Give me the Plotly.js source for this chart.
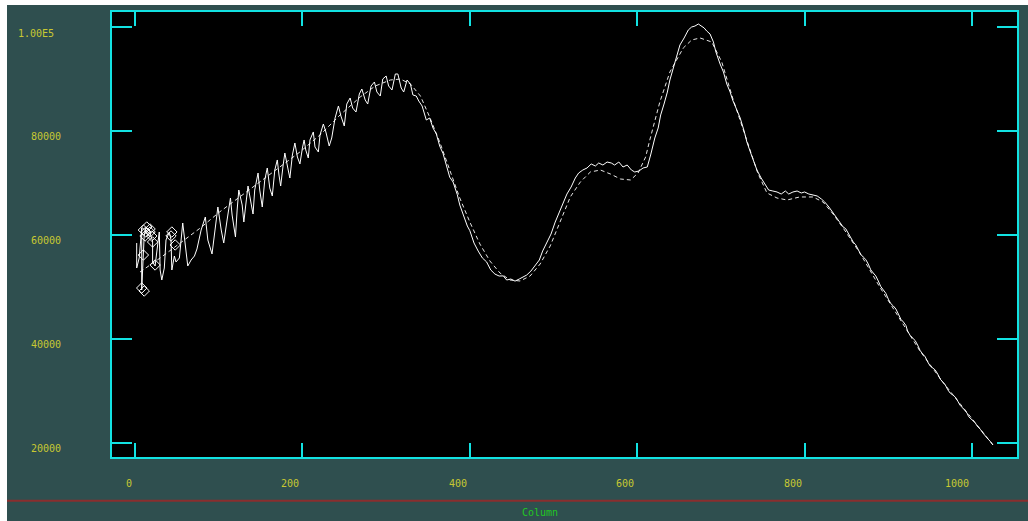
<!DOCTYPE html>
<html>
<head>
<meta charset="utf-8">
<script src="https://cdn.plot.ly/plotly-3.0.1.min.js"></script>
<style>
  html, body { margin: 0; padding: 0; background: #ffffff; }
  #plot { position: absolute; left: 7px; top: 5px; width: 1021px; height: 516px; }
</style>
</head>
<body>
<div id="plot"></div>
<script>
// Axis ticks and their printed labels
const xTicks = [0, 200, 400, 600, 800, 1000];
const xTickLabels = ['0', '200', '400', '600', '800', '1000'];
const yTicks = [20000, 40000, 60000, 80000, 100000];
const yTickLabels = ['20000', '40000', '60000', '80000', '1.00E5'];
const xTitle = 'Column';

// Measured profile along the column direction
const dataX = [
  2, 2, 5, 8, 8, 11, 13, 17, 19, 21,
  21, 24, 26, 29, 30, 32, 35, 37, 41, 43,
  44, 47, 49, 53, 57, 61, 63, 67, 71, 74,
  79, 84, 87, 92, 96, 99, 103, 106, 110, 114,
  116, 120, 122, 124, 128, 130, 133, 135, 139, 141,
  143, 147, 149, 152, 155, 158, 161, 164, 167, 170,
  172, 174, 177, 179, 183, 185, 188, 191, 194, 197,
  200, 202, 204, 207, 209, 213, 215, 219,
  221, 225, 228, 232, 235, 239, 243, 246, 250, 253,
  257, 260, 264, 268, 271, 275, 278, 282, 286, 289,
  293, 296, 300, 303, 307, 311, 314, 318, 321, 325,
  329, 332, 336, 339, 343, 348,
  352, 356, 360, 364, 368, 373, 376, 380, 385, 388,
  392, 397, 400, 405, 410, 415, 420, 425, 430, 435,
  440, 444, 449, 454, 459, 463, 468, 473, 478, 483,
  487, 492, 497, 502, 506, 511, 516, 521, 526, 530,
  535, 540, 545, 550, 554, 559, 564, 569, 573, 578,
  583, 588, 593, 597, 602, 607, 612, 616, 621, 625,
  628, 632, 636, 639, 643, 646, 651, 656, 661, 665,
  669, 673, 676, 680, 683, 687, 691, 694, 699, 703,
  707, 711, 714, 719, 723, 728, 731, 736, 740, 743,
  748, 753, 757, 762, 767, 772, 777, 781, 786, 791,
  796, 800, 805, 810, 815, 820, 824, 829, 834, 840,
  846, 849, 852, 855, 858, 861, 864, 867, 870, 873,
  876, 879, 882, 885, 888, 891, 894, 897, 900, 903,
  906, 909, 912, 915, 918, 921, 923, 926, 929, 932,
  935, 938, 941, 944, 947, 950, 953, 956, 959, 962,
  965, 968, 971, 974, 977, 980, 983, 986, 989, 991,
  994, 996, 999, 1001, 1004, 1006, 1008, 1010, 1013, 1016,
  1019, 1022, 1025
];
const dataY = [
  58430, 53620, 55550, 61320, 49390, 59970, 61320, 60930, 59780, 58820,
  54780, 54010, 56700, 60550, 53240, 51310, 53620, 59010, 60550, 59010,
  53240, 55930, 54780, 55550, 62280, 57090, 54010, 55160, 55930, 57280,
  60930, 63440, 59010, 56320, 60930, 65360, 60930, 58430, 62860, 67090,
  63820, 59590, 64780, 68630, 65750, 62470, 66710, 69400, 65750, 64010,
  68630, 71900, 68630, 65360, 70560, 72870, 69020, 67480, 72480, 74410,
  71520, 69400, 73440, 75750, 72480, 70940, 75370, 77680, 74980, 73640,
  76720, 78260, 76330, 74790, 78260, 79800, 76910, 75950,
  79220, 81330, 79800, 77100, 78640, 82490, 84800, 82870, 80950, 85180,
  86340, 84410, 83640, 87110, 88070, 85950, 85180, 88650, 89420, 87490,
  86720, 90000, 90570, 88650, 87880, 90960, 90960, 88260, 87490, 89800,
  89030, 86920, 86720, 85760, 84800, 82100,
  82490, 80560, 79410, 77100, 75650, 73060, 71100, 70170, 67750, 65750,
  63800, 61700, 60800, 58430, 56880, 55550, 54800, 53240, 52450, 52080,
  52100, 51310, 51500, 51100, 51500, 51890, 52270, 53040, 54010, 55160,
  56890, 58430, 60160, 62470, 64010, 66130, 67860, 69210, 70940, 71900,
  72480, 72870, 73640, 73250, 73830, 73440, 74020, 73830, 73440, 74020,
  73060, 73440, 72480, 72100, 72290, 72870, 73060, 75370, 78640, 80560,
  83070, 85180, 87490, 89800, 92110, 94040, 96540, 97890, 99430, 100000,
  100190, 100580, 100190, 99810, 99230, 98650, 97120, 95190, 92880, 91340,
  89030, 87490, 85950, 84030, 82490, 79800, 77870, 75560, 73830, 72480,
  70940, 69590, 68630, 68440, 68250, 67860, 68440, 67860, 68250, 68440,
  68060, 68250, 67860, 67670, 67480, 66900, 66320, 65360, 64210, 62860,
  61510, 61200, 60390, 59310, 58630, 58090, 57050, 56250, 55740, 55260,
  54380, 53270, 52660, 52090, 51120, 50050, 49390, 48750, 47620, 46760,
  46310, 45730, 44760, 43750, 43230, 42550, 41480, 40660, 40150, 39670,
  38790, 37730, 37070, 36550, 35540, 34760, 34380, 34000, 33210, 32240,
  31680, 31130, 30180, 29530, 29180, 28790, 27990, 27130, 26680, 26350,
  25720, 25010, 24600, 24350, 23790, 23230, 22980, 22570, 21870, 21190,
  20710, 20230, 19560
];

// Fitted model curve
const modelX = [
  6, 30, 54, 78, 101, 125, 149, 173, 197, 221,
  245, 269, 287, 305, 317, 329, 341, 352, 364, 376,
  388, 400, 412, 424, 436, 448, 460, 472, 484, 496,
  508, 520, 532, 544, 556, 568, 580, 592, 601, 610,
  615, 627, 639, 655, 665, 675, 689, 701, 714, 726,
  734, 744, 755, 767, 779, 794, 810, 822, 834, 846,
  866, 889, 913, 937, 965, 994, 1025
];
const modelY = [
  52850, 55550, 58430, 61320, 64400, 67290, 70170, 73060, 75950, 79220,
  83070, 86530, 88650, 89800, 89990, 89030, 86720, 82680, 77870, 72480,
  67090, 62470, 58240, 54970, 52660, 51310, 51120, 52080, 54390, 57860,
  62470, 67290, 70170, 72100, 72480, 71710, 70750, 70560, 71900, 74980,
  78260, 85570, 91340, 95960, 97500, 97890, 97120, 93270, 86340, 80560,
  76330, 71900, 68060, 67090, 66710, 67290, 67290, 66320, 64010, 61320,
  56510, 50160, 44000, 37840, 31680, 25720, 19560
];

// Flagged samples near the start of the column range
const flagX = [8, 11, 10, 12, 13, 14, 18, 18, 20, 21, 24, 10, 43, 44, 48];
const flagY = [49770, 49190, 60930, 59780, 60550, 61510, 61130, 60550, 59780, 58630, 54200, 56120, 59780, 60550, 58050];

const CYAN = '#12e2e2';
const LABEL = '#c8c832';
const MONO = 'DejaVu Sans Mono, Liberation Mono, monospace';

const traces = [
  {
    x: modelX, y: modelY, type: 'scatter', mode: 'lines',
    line: { color: '#e6e6e6', width: 1, dash: '4px,3px' },
    hoverinfo: 'skip'
  },
  {
    x: dataX, y: dataY, type: 'scatter', mode: 'lines',
    line: { color: '#ffffff', width: 1 },
    hoverinfo: 'skip'
  },
  {
    x: flagX, y: flagY, type: 'scatter', mode: 'markers',
    marker: { symbol: 'diamond-open', size: 8, color: '#ffffff', line: { width: 1, color: '#ffffff' } },
    hoverinfo: 'skip'
  }
];

const annotations = [];
xTicks.forEach((v, i) => {
  annotations.push({
    x: v, xref: 'x', y: 0, yref: 'paper',
    xanchor: 'right', yanchor: 'middle', yshift: -26, xshift: -1,
    text: xTickLabels[i], showarrow: false,
    font: { family: MONO, size: 10, color: LABEL }
  });
});
yTicks.forEach((v, i) => {
  const lab = yTickLabels[i];
  annotations.push({
    x: 0, xref: 'paper', y: v, yref: 'y',
    xanchor: 'left', yanchor: 'middle', yshift: -6,
    xshift: lab.indexOf('E') >= 0 ? -96 : -83,
    text: lab, showarrow: false,
    font: { family: MONO, size: 10, color: LABEL }
  });
});
annotations.push({
  x: 0.473, xref: 'paper', y: 0, yref: 'paper',
  xanchor: 'center', yanchor: 'middle', yshift: -55.5,
  text: xTitle, showarrow: false,
  font: { family: MONO, size: 10, color: '#22c822' }
});

const axisCommon = {
  showticklabels: false, ticks: 'inside', tickwidth: 2, tickcolor: CYAN,
  showline: true, linecolor: CYAN, linewidth: 2, mirror: 'ticks',
  showgrid: false, zeroline: false, fixedrange: true
};

const layout = {
  width: 1021, height: 516,
  margin: { l: 105, r: 11, t: 7, b: 64, pad: 0 },
  paper_bgcolor: '#2f4f4f',
  plot_bgcolor: '#000000',
  showlegend: false,
  xaxis: Object.assign({}, axisCommon, { range: [-27.5, 1053.7], tickvals: xTicks, ticklen: 14 }),
  yaxis: Object.assign({}, axisCommon, { range: [17250, 102889], tickvals: yTicks, ticklen: 20 }),
  annotations: annotations,
  shapes: [{
    type: 'line', xref: 'paper', yref: 'paper',
    x0: -0.2, x1: 1.2, y0: -0.0982, y1: -0.0982,
    line: { color: '#8a2e2e', width: 2 }
  }]
};

Plotly.newPlot('plot', traces, layout, { staticPlot: true, displayModeBar: false });
</script>
</body>
</html>
